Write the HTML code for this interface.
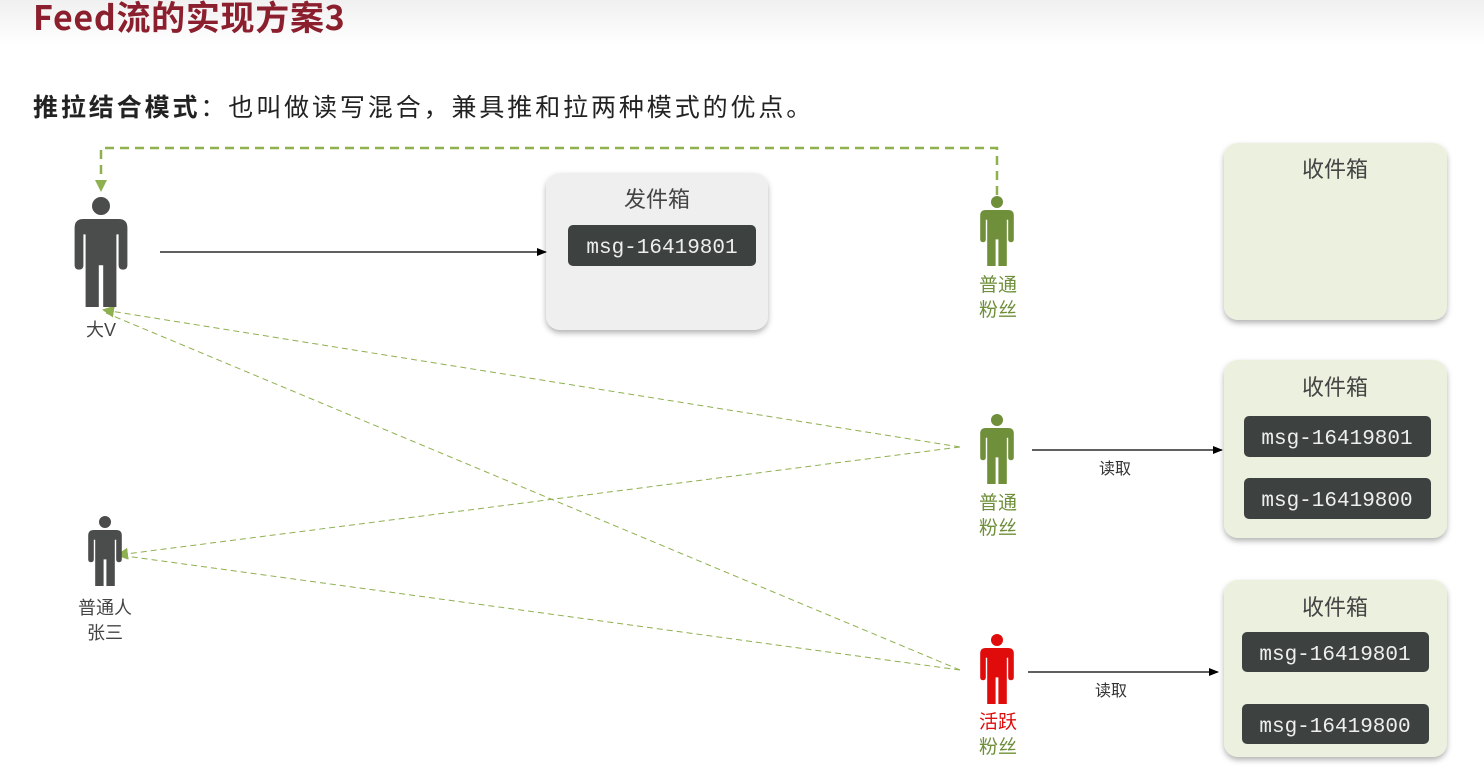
<!DOCTYPE html>
<html><head><meta charset="utf-8"><style>
html,body{margin:0;padding:0;background:#fff;}
body{width:1484px;height:773px;overflow:hidden;position:relative;font-family:"Liberation Sans","Noto Sans CJK SC",sans-serif;}
.hdr{position:absolute;left:0;top:0;width:1484px;height:45px;background:linear-gradient(#f0f0f0,#fff);}
.t{position:absolute;left:33px;top:-9px;font-size:34px;font-weight:bold;color:#8c1f2e;white-space:nowrap;font-family:"Noto Sans CJK SC",sans-serif;letter-spacing:0.7px;}
.s{position:absolute;left:33px;top:88px;font-size:25px;color:#222;white-space:nowrap;font-family:"Noto Sans CJK SC",sans-serif;line-height:36px;letter-spacing:2.9px;}
</style></head><body>
<div class="hdr"></div>
<div class="t">Feed流的实现方案3</div>
<div class="s"><b>推拉结合模式</b>：也叫做读写混合，兼具推和拉两种模式的优点。</div>
<svg width="1484" height="773" style="position:absolute;left:0;top:0">
<defs>
<path id="p" d="M-16,20 Q-24,20 -24,28 L-24,62 Q-24,66 -20,66 Q-16,66 -16,62 L-16,34 L-14,34 L-14,100 L-2,100 L-2,62 L2,62 L2,100 L14,100 L14,34 L16,34 L16,62 Q16,66 20,66 Q24,66 24,62 L24,28 Q24,20 16,20 Z"/>
<marker id="a" markerWidth="10" markerHeight="10" refX="9" refY="5" orient="auto" markerUnits="userSpaceOnUse"><path d="M0,1 L10,5 L0,9 Z" fill="#000"/></marker>
<marker id="g" markerWidth="12" markerHeight="12" refX="10" refY="6" orient="auto" markerUnits="userSpaceOnUse"><path d="M0,0 L12,6 L0,12 Z" fill="#8fb04f"/></marker>
<filter id="sh" x="-10%" y="-10%" width="120%" height="125%"><feDropShadow dx="0" dy="3" stdDeviation="3" flood-color="#000" flood-opacity="0.3"/></filter>
</defs>
<rect x="546" y="173" width="222" height="157" rx="14" fill="#efefef" filter="url(#sh)"/>
<text x="657" y="207" font-size="22" fill="#444" text-anchor="middle">发件箱</text>
<rect x="568" y="225" width="188" height="41" rx="5" fill="#3d4241"/>
<rect x="1224" y="143" width="223" height="177" rx="14" fill="#ebf1de" filter="url(#sh)"/>
<text x="1335" y="177" font-size="22" fill="#444" text-anchor="middle">收件箱</text>
<rect x="1224" y="360" width="223" height="178" rx="14" fill="#ebf1de" filter="url(#sh)"/>
<text x="1335" y="395" font-size="22" fill="#444" text-anchor="middle">收件箱</text>
<rect x="1244" y="416" width="187" height="41" rx="5" fill="#3d4241"/>
<rect x="1244" y="478" width="187" height="41" rx="5" fill="#3d4241"/>
<rect x="1224" y="580" width="223" height="177" rx="14" fill="#ebf1de" filter="url(#sh)"/>
<text x="1335" y="615" font-size="22" fill="#444" text-anchor="middle">收件箱</text>
<rect x="1242" y="632" width="187" height="40" rx="5" fill="#3d4241"/>
<rect x="1242" y="704" width="187" height="40" rx="5" fill="#3d4241"/>
<g font-family="Liberation Mono,monospace" font-size="21" fill="#eee" text-anchor="middle">
<text x="662" y="253">msg-16419801</text>
<text x="1337" y="444">msg-16419801</text>
<text x="1337" y="506">msg-16419800</text>
<text x="1335" y="660">msg-16419801</text>
<text x="1335" y="732">msg-16419800</text>
</g>
<line x1="160" y1="252" x2="546" y2="252" stroke="#000" stroke-width="1.3" marker-end="url(#a)"/>
<line x1="1032" y1="450" x2="1222" y2="450" stroke="#000" stroke-width="1.3" marker-end="url(#a)"/>
<line x1="1028" y1="672" x2="1218" y2="672" stroke="#000" stroke-width="1.3" marker-end="url(#a)"/>
<text x="1115" y="474" font-size="16" fill="#333" text-anchor="middle">读取</text>
<text x="1111" y="696" font-size="16" fill="#333" text-anchor="middle">读取</text>
<path d="M997,195 L997,148 L101,148 L101,190" fill="none" stroke="#8fb04f" stroke-width="2.5" stroke-dasharray="9,6" marker-end="url(#g)"/>
<g fill="none" stroke="#8fb04f" stroke-width="1" stroke-dasharray="6,4">
<line x1="960" y1="447" x2="104" y2="310" marker-end="url(#g)"/>
<line x1="960" y1="447" x2="118" y2="555" marker-end="url(#g)"/>
<line x1="960" y1="670" x2="106" y2="313"/>
<line x1="960" y1="670" x2="118" y2="555"/>
</g>
<g fill="#4a4d4c"><circle cx="101" cy="206" r="9"/><use href="#p" transform="translate(101,197) scale(1.1)"/></g>
<text x="101" y="336" font-size="18" fill="#444" text-anchor="middle">大V</text>
<g fill="#4a4d4c"><circle cx="105" cy="522" r="6"/><use href="#p" transform="translate(105,516) scale(0.7)"/></g>
<text x="105" y="614" font-size="18" fill="#444" text-anchor="middle">普通人</text>
<text x="105" y="639" font-size="18" fill="#444" text-anchor="middle">张三</text>
<g fill="#6f8f3a"><circle cx="997" cy="202" r="6"/><use href="#p" transform="translate(997,196) scale(0.7)"/></g>
<text x="998" y="291" font-size="19" fill="#6f8f3a" text-anchor="middle">普通</text>
<text x="998" y="316" font-size="19" fill="#6f8f3a" text-anchor="middle">粉丝</text>
<g fill="#6f8f3a"><circle cx="997" cy="420" r="6"/><use href="#p" transform="translate(997,414) scale(0.7)"/></g>
<text x="998" y="509" font-size="19" fill="#6f8f3a" text-anchor="middle">普通</text>
<text x="998" y="534" font-size="19" fill="#6f8f3a" text-anchor="middle">粉丝</text>
<g fill="#e00b0b"><circle cx="997" cy="640" r="6"/><use href="#p" transform="translate(997,634) scale(0.7)"/></g>
<text x="998" y="728" font-size="19" fill="#e00b0b" text-anchor="middle">活跃</text>
<text x="998" y="753" font-size="19" fill="#6f8f3a" text-anchor="middle">粉丝</text>
</svg>
</body></html>
